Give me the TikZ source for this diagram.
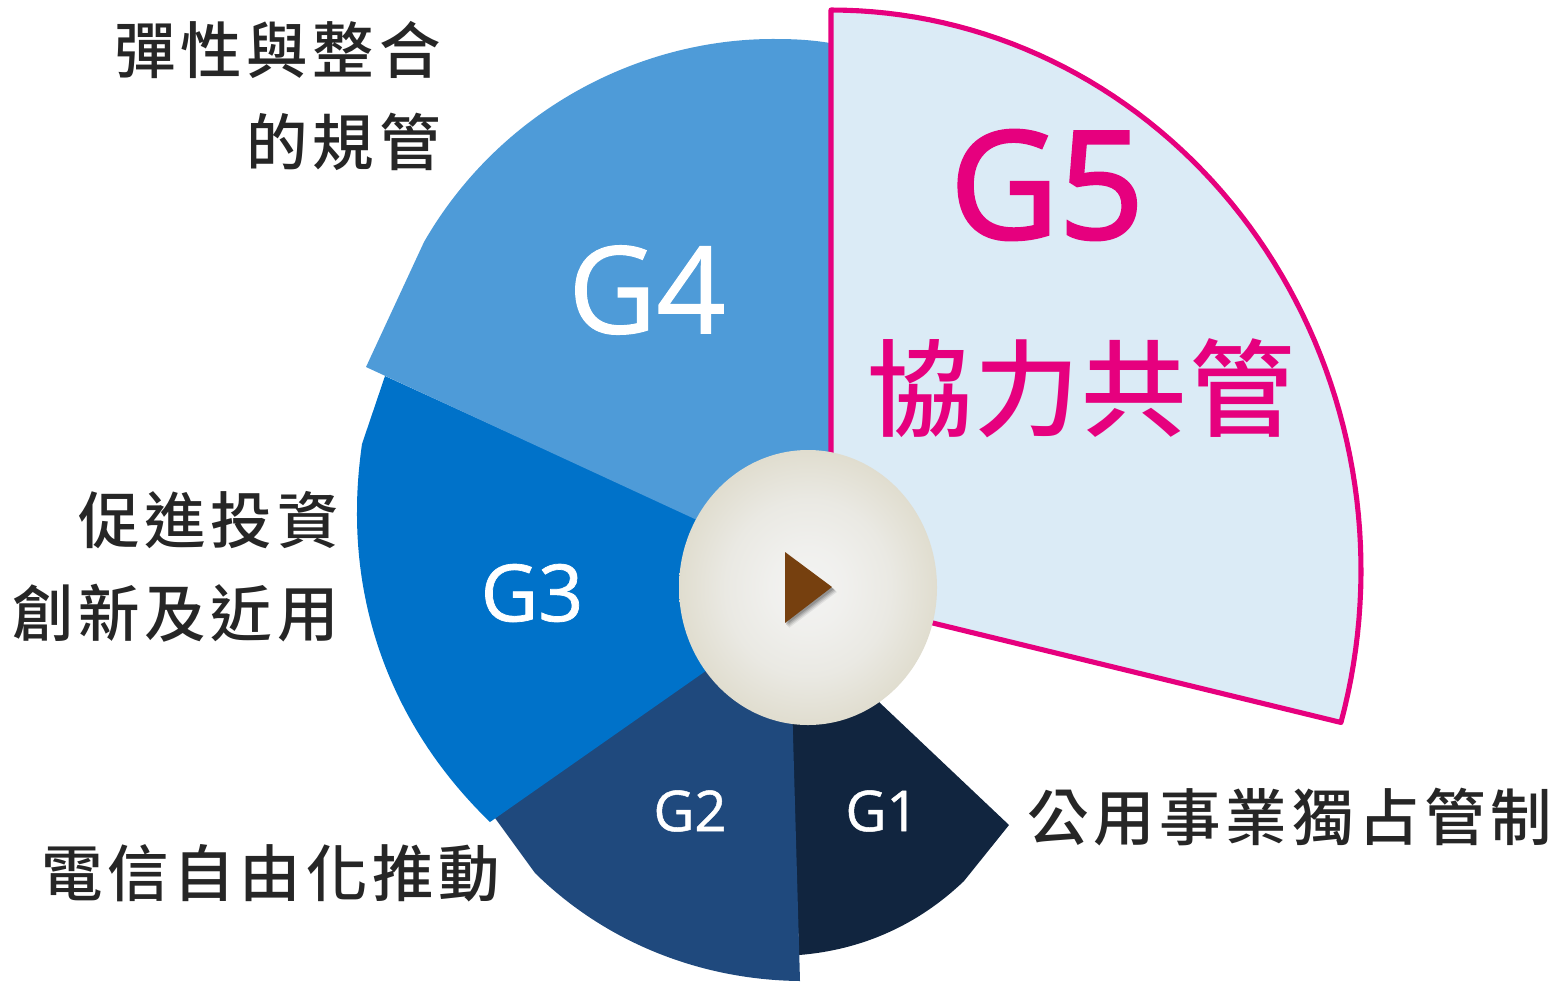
\documentclass[tikz,border=0pt]{standalone}
\usepackage{fontspec}
\newfontfamily\cjkf[LetterSpace=7.7]{Noto Sans CJK TC Medium}
\newfontfamily\cjkbig[LetterSpace=2]{Noto Sans CJK TC Medium}
\newfontfamily\latf{Open Sans}
\newfontfamily\latb[FakeBold=0.9]{Open Sans}
\definecolor{gA}{HTML}{11253F}
\definecolor{gB}{HTML}{1F497D}
\definecolor{gC}{HTML}{0072C9}
\definecolor{gD}{HTML}{4E9BD8}
\definecolor{gE}{HTML}{DBEBF6}
\definecolor{pink}{HTML}{E6007E}
\definecolor{txt}{HTML}{262626}
\definecolor{discO}{HTML}{E0DDCF}
\definecolor{discM}{HTML}{EAE9E3}
\definecolor{discI}{HTML}{F3F3F2}
\definecolor{tri}{HTML}{76400F}
\pgfdeclareradialshading{discshade}{\pgfpoint{0bp}{0bp}}{color(0bp)=(discI); color(7bp)=(discI!70!discM); color(16bp)=(discM); color(25bp)=(discO); color(50bp)=(discO)}
\tikzset{
  sectorlabel/.style={inner sep=0pt,text=white},
  sidelabel/.style={inner sep=0pt,text=txt,font=\cjkf\fontsize{35}{35}\selectfont},
}
\begin{document}
\begin{tikzpicture}[x=0.02cm,y=-0.02cm]
\useasboundingbox (0,0) rectangle (1564,981);
% G1
\fill[gA] (879,702) -- (1009,825) -- (964,881) .. controls (918,925) and (862,950) .. (799,955) -- (790,700) -- cycle;
% G2
\fill[gB] (792,700) -- (800,981) .. controls (700,980) and (605,942) .. (535,873) -- (495,818) -- (710,665) -- cycle;
% G3
\fill[gC] (385,376) -- (700,520) -- (710,668) -- (490,822) .. controls (400,735) and (356,625) .. (357,510) .. controls (357,488) and (359,465) .. (362,444) -- cycle;
% G4
\fill[gD] (366,367) -- (424,242) .. controls (500,110) and (640,38) .. (776,39) .. controls (795,39) and (812,40) .. (830,43) -- (830,460) -- (697,520) -- cycle;
% G5
\draw[pink,line width=2.9pt,fill=gE,line join=round] (831,560) -- (831,10) -- plot[domain=90:-15.8,samples=70] ({831+530*cos(\x)},{570-560*sin(\x)}) -- (900,615) -- cycle;
% disc
\shade[shading=discshade] (808,587.5) ellipse[x radius=129,y radius=137.5];
\foreach \o/\p in {5/.07,4/.1,3/.13,2/.16}{
  \fill[black,opacity=\p] (785+\o-1,552+\o) -- (832+\o,587+\o) -- (785+\o-1,623+\o) -- cycle;
}
\fill[tri] (785,552) -- (832,587) -- (785,623) -- cycle;
% sector labels
\node[sectorlabel,font=\latb\fontsize{32}{32}\selectfont] (g1) at (882,811) {G1};
\node[sectorlabel,font=\latb\fontsize{32}{32}\selectfont] (g2) at (690,811) {G2};
\node[sectorlabel,font=\latb\fontsize{45}{45}\selectfont] (g3) at (532,593) {G3};
\node[sectorlabel,font=\latb\fontsize{69}{69}\selectfont] (g4) at (647,290) {G4};
\node[sectorlabel,text=pink,font=\latb\fontsize{85}{85}\selectfont\addfontfeature{FakeBold=2.2}] (g5) at (1047,185) {G5};
\node[inner sep=0pt,text=pink,font=\cjkbig\fontsize{60}{60}\selectfont] (g5t) at (1081,388) {協力共管};
% side labels
\node[sidelabel,anchor=east] (a1) at (441,50) {彈性與整合};
\node[sidelabel,anchor=east] (a2) at (441,142) {的規管};
\node[sidelabel,anchor=east] (b1) at (339,520) {促進投資};
\node[sidelabel,anchor=east] (b2) at (339,613) {創新及近用};
\node[sidelabel,anchor=west] (c) at (41,873) {電信自由化推動};
\node[sidelabel,anchor=west] (d) at (1027,817) {公用事業獨占管制};
\end{tikzpicture}
\end{document}
